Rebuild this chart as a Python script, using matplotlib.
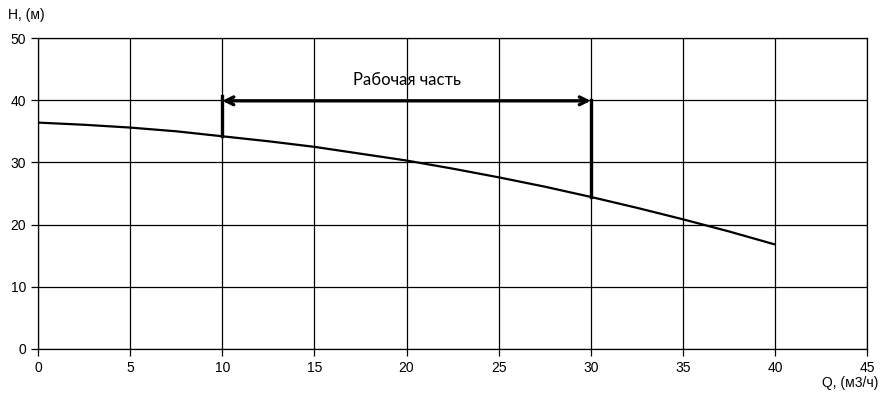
import matplotlib
matplotlib.use("Agg")
import matplotlib.pyplot as plt

plt.rcParams['font.family'] = ['Liberation Sans', 'DejaVu Sans']

q = [0, 2.5, 5, 7.5, 10, 12.5, 15, 17.5, 20, 22.5, 25, 27.5, 30, 32.5, 35, 37.5, 40]
h = [36.4, 36.05, 35.6, 35.0, 34.2, 33.4, 32.5, 31.4, 30.3, 29.0, 27.6, 26.1, 24.45,
     22.7, 20.85, 18.9, 16.8]
work_start, work_end = 10, 30
work_start_h, work_end_h = 34.2, 24.45
work_top_left, work_top_right = 40.6, 40.0
arrow_y = 39.9
label = "Рабочая часть"
xticks = list(range(0, 50, 5))
yticks = list(range(0, 60, 10))

fig = plt.figure(figsize=(8.84, 4.0), dpi=100)
ax = fig.add_axes([0.043, 0.1275, 0.938, 0.7775])
ax.set_xlim(0, 45)
ax.set_ylim(0, 50)
ax.set_xticks(xticks)
ax.set_yticks(yticks)
ax.grid(True, color='black', linewidth=0.9)
ax.set_axisbelow(True)
for s in ax.spines.values():
    s.set_color('black')
    s.set_linewidth(0.9)
ax.tick_params(direction='out', length=5, width=0.9, labelsize=10, colors='black')

ax.plot(q, h, color='black', linewidth=1.6, solid_capstyle='butt')
ax.plot([work_start, work_start], [work_start_h, work_top_left], color='black', linewidth=2.4)
ax.plot([work_end, work_end], [work_end_h, work_top_right], color='black', linewidth=2.4)
ax.annotate('', xy=(work_start, arrow_y), xytext=(work_end, arrow_y),
            arrowprops=dict(arrowstyle='<->', color='black', lw=2.4,
                            shrinkA=0, shrinkB=0, mutation_scale=14))
ax.text(20, 43.3, label, ha='center', va='center', fontsize=12,
        family=['Lato', 'DejaVu Sans'])

fig.text(8/884, 1 - 15/400, "H, (м)", ha='left', va='center', fontsize=10)
fig.text(878/884, 1 - 383/400, "Q, (м3/ч)", ha='right', va='center', fontsize=10)

fig.savefig('out.png', dpi=100)
